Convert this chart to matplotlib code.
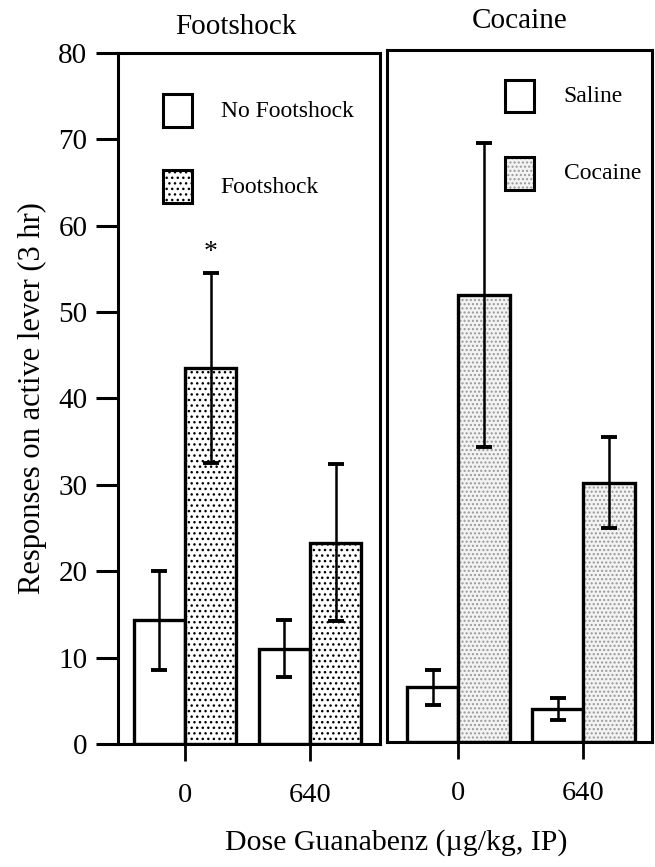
import matplotlib.pyplot as plt
import numpy as np

plt.rcParams['font.family'] = ['Liberation Serif', 'DejaVu Serif']

doses = ['0', '640']

# Footshock experiment
no_shock_mean = [14.3, 11.0]
no_shock_sem = [5.7, 3.3]
shock_mean = [43.5, 23.3]
shock_sem = [11.0, 9.1]

# Cocaine experiment
saline_mean = [6.3, 3.8]
saline_sem = [2.0, 1.3]
cocaine_mean = [51.7, 30.0]
cocaine_sem = [17.6, 5.3]

fig = plt.figure(figsize=(6.55, 8.67), dpi=100)
ax1 = fig.add_axes([0.180, 0.1419, 0.400, 0.797])
ax2 = fig.add_axes([0.591, 0.1442, 0.405, 0.798])

x = np.arange(len(doses))
w = 0.41


def draw_bars(ax, means, sems, offset, face, hatch=None, hatch_col='k'):
    pos = x + offset
    if hatch:
        ax.bar(pos, means, w, color=face, hatch=hatch, edgecolor=hatch_col, linewidth=0)
    else:
        ax.bar(pos, means, w, color=face, linewidth=0)
    ax.bar(pos, means, w, fill=False, edgecolor='k', linewidth=2.4)
    ax.errorbar(pos, means, yerr=sems, fmt='none', ecolor='k', elinewidth=1.8,
                capsize=6, capthick=2.8)


draw_bars(ax1, no_shock_mean, no_shock_sem, -w / 2, 'white')
draw_bars(ax1, shock_mean, shock_sem, w / 2, 'white', hatch='...', hatch_col='k')
draw_bars(ax2, saline_mean, saline_sem, -w / 2, 'white')
draw_bars(ax2, cocaine_mean, cocaine_sem, w / 2, '#f3f3f3', hatch='....', hatch_col='0.6')

ax1.text(x[0] + w / 2, shock_mean[0] + shock_sem[0] + 2.4, '*', ha='center',
         va='center', fontsize=20)

for ax, xl in ((ax1, (-0.536, 1.56)), (ax2, (-0.568, 1.55))):
    ax.set_xlim(*xl)
    ax.set_ylim(0, 80)
    ax.set_xticks(x)
    ax.set_xticklabels(doses, fontsize=20.5)
    ax.tick_params(axis='x', direction='out', length=12, width=2, pad=16)
    for s in ax.spines.values():
        s.set_linewidth(2.2)

ax1.set_yticks(np.arange(0, 81, 10))
ax1.tick_params(axis='y', labelsize=21, length=16, width=2.2, pad=6)
ax2.set_yticks([])

ax1.set_title('Footshock', fontsize=21, pad=14, x=0.45)
ax2.set_title('Cocaine', fontsize=21, pad=16)
ax1.set_ylabel('Responses on active lever (3 hr)', fontsize=22, labelpad=8)
fig.text(0.605, 0.020, 'Dose Guanabenz (\u00b5g/kg, IP)', ha='center', fontsize=21.5)

# legend boxes drawn in axes coordinates
def legend_box(ax, xb, yb, label, face, hatch=None, hatch_col='k'):
    if hatch:
        ax.add_patch(plt.Rectangle((xb, yb), 0.11, 0.047, transform=ax.transAxes,
                                   facecolor=face, hatch=hatch, edgecolor=hatch_col,
                                   linewidth=0))
    ax.add_patch(plt.Rectangle((xb, yb), 0.11, 0.047, transform=ax.transAxes,
                               fill=False, edgecolor='k', linewidth=2.2))
    ax.text(xb + 0.22, yb + 0.023, label, transform=ax.transAxes, va='center',
            fontsize=17)

legend_box(ax1, 0.172, 0.893, 'No Footshock', 'white')
legend_box(ax1, 0.172, 0.783, 'Footshock', 'white', hatch='...')
legend_box(ax2, 0.445, 0.910, 'Saline', 'white')
legend_box(ax2, 0.445, 0.798, 'Cocaine', '#f3f3f3', hatch='....', hatch_col='0.6')

fig.savefig('out.png', dpi=100)
